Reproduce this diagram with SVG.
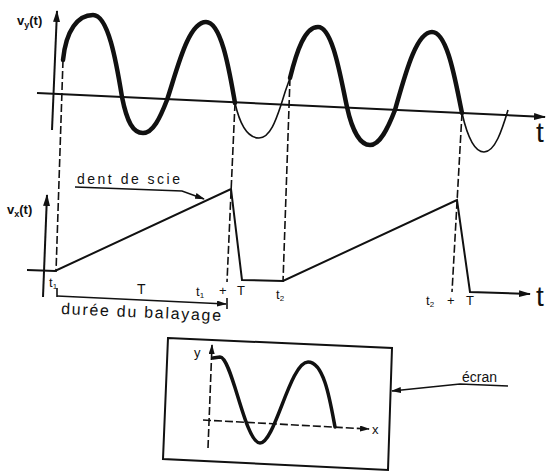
<svg xmlns="http://www.w3.org/2000/svg" width="551" height="474" viewBox="0 0 551 474">
<defs>
<style>
.ax{fill:none;stroke:#111;stroke-width:2}
.thick{fill:none;stroke:#111;stroke-width:4.5;stroke-linecap:round}
.thin{fill:none;stroke:#111;stroke-width:1.6}
.dash{fill:none;stroke:#111;stroke-width:1.6;stroke-dasharray:8 3}
.lbl{font-family:"Liberation Sans",Arial,sans-serif;fill:#111}
</style>
<marker id="ah" viewBox="0 0 12 8" refX="11" refY="4" markerWidth="12" markerHeight="8" markerUnits="userSpaceOnUse" orient="auto">
<path d="M0,0.5 L12,4 L0,7.5 Z" fill="#111"/>
</marker>
<marker id="ahs" viewBox="0 0 10 6" refX="9" refY="3" markerWidth="10" markerHeight="6" markerUnits="userSpaceOnUse" orient="auto">
<path d="M0,0 L10,3 L0,6 Z" fill="#111"/>
</marker>
</defs>
<rect width="551" height="474" fill="#fff"/>

<g id="connectors">
<!-- dashed verticals -->
<line class="dash" x1="63" y1="60" x2="56" y2="272"/>
<line class="dash" x1="235" y1="103" x2="227" y2="282"/>
<line class="dash" x1="290" y1="78" x2="283" y2="282"/>
<line class="dash" x1="462" y1="113" x2="452" y2="292"/>
<!-- dent de scie pointer -->
<polyline class="thin" points="75,187 182,191 204,199" marker-end="url(#ahs)"/>
<!-- écran pointer -->
<polyline class="thin" points="508,386 460,384 392,391" marker-end="url(#ahs)"/>
<!-- durée du balayage -->
<line class="thin" x1="57" y1="288" x2="57" y2="297"/>
<line class="thin" x1="57" y1="296" x2="226" y2="304" marker-end="url(#ahs)"/>
<line class="thin" x1="227" y1="298" x2="227" y2="309"/>
</g>

<g id="top-graph">
<line class="ax" x1="37" y1="93" x2="545" y2="117" marker-end="url(#ah)"/>
<line class="ax" x1="52" y1="130" x2="57" y2="11" marker-end="url(#ah)"/>
<text class="lbl" x="17" y="25" font-size="13" font-weight="bold">v<tspan font-size="9" dy="3">y</tspan><tspan dy="-3">(t)</tspan></text>
<text class="lbl" x="536" y="142" font-size="28">t</text>
<path class="thick" d="M63,60 C66,30 78,15 93,15 C108,15 116,60 122,97 C127,122 133,133 143,133 C153,133 160,118 167,100 C177,70 188,22 206,22 C222,22 230,75 235,103"/>
<path class="thin" d="M235,103 C240,125 248,138 259,138 C270,138 276,120 281,105 C284,95 287,86 290,78"/>
<path class="thick" d="M290,78 C297,50 305,27 318,27 C333,27 341,80 347,107 C352,130 360,145 370,145 C380,145 388,128 395,110 C405,75 416,32 432,32 C448,32 456,85 462,113"/>
<path class="thin" d="M462,113 C467,135 474,152 484,152 C495,152 502,130 508,110"/>
</g>

<g id="sawtooth">
<line class="ax" x1="43" y1="297" x2="47" y2="195" marker-end="url(#ah)"/>
<text class="lbl" x="7" y="214" font-size="13" font-weight="bold">v<tspan font-size="9" dy="3">x</tspan><tspan dy="-3">(t)</tspan></text>
<polyline class="ax" points="27,270 55,271 231,189 242,280 283,281 457,200 470,292 530,294" marker-end="url(#ah)"/>
<text class="lbl" x="536" y="306" font-size="28">t</text>
<text class="lbl" x="77" y="184" font-size="14" textLength="103" lengthAdjust="spacing">dent de scie</text>
<text class="lbl" x="49" y="287" font-size="13">t<tspan font-size="8" dy="2">1</tspan></text>
<text class="lbl" x="137" y="294" font-size="14">T</text>
<text class="lbl" x="196" y="296" font-size="13">t<tspan font-size="8" dy="2">1</tspan></text>
<text class="lbl" x="219" y="295" font-size="13">+</text>
<text class="lbl" x="237" y="295" font-size="13">T</text>
<text class="lbl" x="276" y="299" font-size="13">t<tspan font-size="8" dy="2">2</tspan></text>
<text class="lbl" x="426" y="305" font-size="13">t<tspan font-size="8" dy="2">2</tspan></text>
<text class="lbl" x="447" y="305" font-size="13">+</text>
<text class="lbl" x="466" y="305" font-size="13">T</text>
<text class="lbl" x="61" y="314" font-size="16" textLength="160" lengthAdjust="spacing" transform="rotate(2.5 61 314)">durée du balayage</text>
</g>

<g id="screen">
<polygon points="168,338 392,348 388,470 163,459" fill="none" stroke="#111" stroke-width="2"/>
<line class="dash" x1="208" y1="448" x2="212" y2="345" marker-end="url(#ahs)"/>
<line class="dash" x1="203" y1="420" x2="369" y2="429" marker-end="url(#ahs)"/>
<text class="lbl" x="194" y="357" font-size="13">y</text>
<text class="lbl" x="372" y="434" font-size="13">x</text>
<path class="thick" style="stroke-width:3.5" d="M213,358 L220,357 C232,357 245,443 260,443 C275,443 290,362 308,362 C324,362 330,400 335,427"/>
</g>

<g id="ecran-label">
<text class="lbl" x="462" y="382" font-size="14">écran</text>
</g>
</svg>
